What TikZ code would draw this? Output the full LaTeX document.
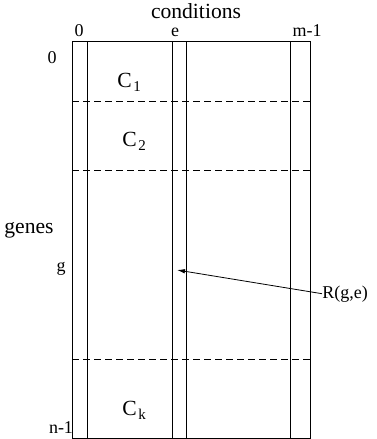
\documentclass[tikz,border=0pt]{standalone}
\usepackage{fontspec}
\setmainfont{Liberation Serif}
\usetikzlibrary{arrows.meta}
\begin{document}
\begin{tikzpicture}[x=1pt,y=-1pt, line width=0.8pt,
  big/.style={font=\fontsize{21.6}{24}\selectfont, inner sep=0pt, anchor=base},
  small/.style={font=\fontsize{18}{20}\selectfont, inner sep=0pt, anchor=base},
  clab/.style={font=\fontsize{21.6}{24}\selectfont, inner sep=0pt, anchor=base west},
  sep/.style={dash pattern=on 7pt off 4pt},
  pointer/.style={-{Latex[length=8pt,width=4.5pt]}}]
\useasboundingbox (0,0) rectangle (376,439);
\newcommand{\subl}[1]{\hspace{1.5pt}\raisebox{-4pt}{\fontsize{15}{17}\selectfont #1}}
% matrix frame and columns
\draw (72,41) rectangle (310,438);
\foreach \x in {87,172,186,290} \draw (\x,41) -- (\x,438);
% cluster separators
\foreach \y in {101,170,359} \draw[sep] (72,\y) -- (310,\y);
% labels
\node[big] (cond) at (196,18) {conditions};
\node[small] (c0) at (79,36) {0};
\node[small] (ce) at (175,36) {e};
\node[small] (cm) at (307,36) {m-1};
\node[small] (r0) at (52,63) {0};
\node[big] (genes) at (29,233) {genes};
\node[small] (rg) at (61,271) {g};
\node[small] (rn) at (61,433) {n-1};
\node[clab] (C1) at (117,87) {C\subl{1}};
\node[clab] (C2) at (122,146) {C\subl{2}};
\node[clab] (Ck) at (122,415) {C\subl{k}};
\node[small, anchor=base west] (R) at (322,298) {R(g,e)};
\coordinate (tip) at (177,270);
\draw[pointer] (R.west) -- (tip);
\end{tikzpicture}
\end{document}
